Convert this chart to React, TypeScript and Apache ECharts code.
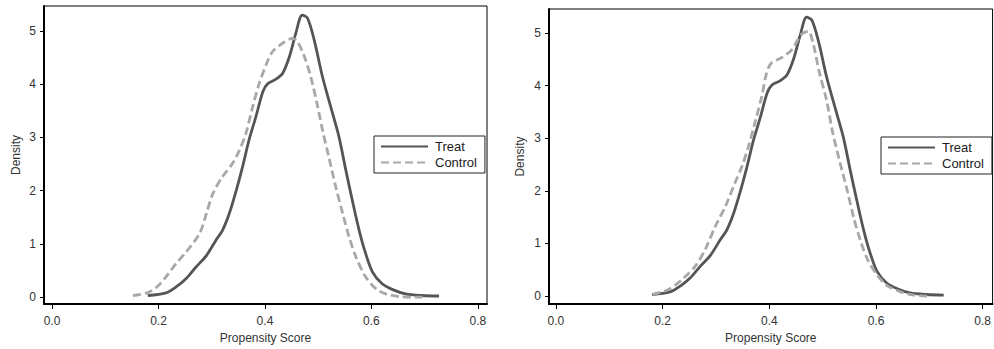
import React, { useEffect, useRef } from "react";
import * as echarts from "echarts";

// Kernel density of propensity score — Treat (same in both panels)
const treatX = [0.18, 0.214, 0.233, 0.252, 0.27, 0.29, 0.308, 0.32, 0.333, 0.346, 0.358, 0.37, 0.383, 0.396, 0.405, 0.42, 0.433, 0.446, 0.458, 0.47, 0.48, 0.4925, 0.508, 0.527, 0.539, 0.552, 0.564, 0.577, 0.589, 0.602, 0.62, 0.64, 0.664, 0.695, 0.727];
const treatY = [0.03, 0.08, 0.19, 0.35, 0.56, 0.78, 1.07, 1.25, 1.57, 2.0, 2.45, 2.95, 3.39, 3.86, 4.01, 4.09, 4.2, 4.52, 4.96, 5.3, 5.24, 4.83, 4.14, 3.45, 3.01, 2.38, 1.82, 1.25, 0.82, 0.47, 0.25, 0.14, 0.06, 0.03, 0.02];

// Control before matching (left panel)
const controlBeforeX = [0.152, 0.177, 0.196, 0.214, 0.233, 0.252, 0.277, 0.29, 0.302, 0.32, 0.339, 0.352, 0.364, 0.377, 0.389, 0.402, 0.414, 0.433, 0.452, 0.461, 0.474, 0.486, 0.499, 0.508, 0.52, 0.533, 0.546, 0.558, 0.571, 0.589, 0.608, 0.627, 0.652, 0.683, 0.696];
const controlBeforeY = [0.03, 0.075, 0.18, 0.38, 0.63, 0.85, 1.19, 1.57, 1.94, 2.26, 2.51, 2.76, 3.07, 3.58, 4.01, 4.36, 4.61, 4.77, 4.86, 4.8, 4.52, 4.14, 3.58, 3.14, 2.63, 2.07, 1.57, 1.13, 0.75, 0.38, 0.16, 0.06, 0.01, 0.0, 0.0];

// Control after matching (right panel)
const controlAfterX = [0.181, 0.212, 0.237, 0.262, 0.28, 0.299, 0.318, 0.336, 0.349, 0.361, 0.373, 0.386, 0.395, 0.404, 0.423, 0.442, 0.46, 0.473, 0.482, 0.494, 0.507, 0.519, 0.531, 0.547, 0.559, 0.572, 0.584, 0.603, 0.621, 0.646, 0.671, 0.696];
const controlAfterY = [0.03, 0.13, 0.32, 0.58, 0.89, 1.33, 1.71, 2.16, 2.47, 2.85, 3.29, 3.8, 4.24, 4.43, 4.53, 4.68, 4.97, 5.03, 4.81, 4.24, 3.74, 3.1, 2.6, 1.97, 1.46, 1.02, 0.7, 0.39, 0.2, 0.08, 0.02, 0.0];

const xTicks = [0, 0.2, 0.4, 0.6, 0.8];
const yTicks = [0, 1, 2, 3, 4, 5];
const seriesNames = ["Treat", "Control"];
const xTitle = "Propensity Score";
const yTitle = "Density";

const zip = (xs: number[], ys: number[]) => xs.map((x, i) => [x, ys[i]]);

const FONT = "'Liberation Sans', Arial, sans-serif";
const TEXT = "#333";

export default function App() {
  const ref = useRef<HTMLDivElement>(null);
  useEffect(() => {
    if (!ref.current) return;
    const chart = echarts.init(ref.current, undefined, { renderer: "svg" });

    const xAxisBase = (gridIndex: number, min: number, max: number) => ({
      type: "value",
      gridIndex,
      min,
      max,
      name: xTitle,
      nameLocation: "middle",
      nameGap: 27,
      nameTextStyle: { fontFamily: FONT, fontSize: 12, color: TEXT },
      splitLine: { show: false },
      axisLine: { show: true, onZero: false, lineStyle: { color: "#000", width: 2 } },
      axisTick: { show: true, length: 5, customValues: xTicks, lineStyle: { color: "#000" } },
      axisLabel: {
        customValues: xTicks,
        margin: 11,
        fontFamily: FONT,
        fontSize: 12,
        color: TEXT,
        formatter: (v: number) => v.toFixed(1),
      },
    });
    const yAxisBase = (gridIndex: number, min: number, max: number, gap: number) => ({
      type: "value",
      gridIndex,
      min,
      max,
      name: yTitle,
      nameLocation: "middle",
      nameGap: gap,
      nameTextStyle: { fontFamily: FONT, fontSize: 12, color: TEXT },
      splitLine: { show: false },
      axisLine: { show: true, onZero: false, lineStyle: { color: "#000", width: 2 } },
      axisTick: { show: true, length: 4, customValues: yTicks, lineStyle: { color: "#000" } },
      axisLabel: {
        customValues: yTicks,
        margin: 8,
        fontFamily: FONT,
        fontSize: 12,
        color: TEXT,
        formatter: (v: number) => String(Math.round(v)),
      },
    });

    const treatStyle = { color: "#555555", width: 2.8, type: "solid" };
    const ctrlStyle = { color: "#a8a8a8", width: 2.8, type: [8, 4] };
    const mk = (name: string, data: number[][], idx: number, ls: any) => ({
      type: "line",
      name,
      data,
      xAxisIndex: idx,
      yAxisIndex: idx,
      showSymbol: false,
      symbol: "none",
      smooth: 0.3,
      color: ls.color,
      lineStyle: ls,
    });

    const legendBase = (left: number, top: number) => ({
      left,
      top,
      orient: "vertical",
      data: seriesNames,
      itemWidth: 47,
      itemHeight: 14,
      itemGap: 3,
      padding: [4, 8, 4, 6],
      borderColor: "#222",
      borderWidth: 1,
      backgroundColor: "#fff",
      selectedMode: false,
      itemStyle: { opacity: 0 },
      textStyle: { fontFamily: FONT, fontSize: 13, color: "#222", padding: [0, 0, 0, 2] },
    });

    chart.setOption({
      animation: false,
      backgroundColor: "#fff",
      grid: [
        { left: 44, top: 6, right: 994 - 487, bottom: 349 - 304, show: true, borderColor: "#000", borderWidth: 1, backgroundColor: "transparent" },
        { left: 549, top: 9, right: -2, bottom: 349 - 305, show: true, borderColor: "#000", borderWidth: 1, backgroundColor: "transparent" },
      ],
      xAxis: [xAxisBase(0, -0.015, 0.817), xAxisBase(1, -0.013, 0.8186)],
      yAxis: [yAxisBase(0, -0.13, 5.47, 22), yAxisBase(1, -0.152, 5.455, 23)],
      legend: [legendBase(374, 136), legendBase(881, 137)],
      series: [
        mk("Treat", zip(treatX, treatY), 0, treatStyle),
        mk("Control", zip(controlBeforeX, controlBeforeY), 0, ctrlStyle),
        mk("Treat", zip(treatX, treatY), 1, treatStyle),
        mk("Control", zip(controlAfterX, controlAfterY), 1, ctrlStyle),
      ],
    });
    return () => chart.dispose();
  }, []);
  return (
    <div
      ref={ref}
      style={{ position: "fixed", left: 0, top: 0, width: 994, height: 349, background: "#fff" }}
    />
  );
}
